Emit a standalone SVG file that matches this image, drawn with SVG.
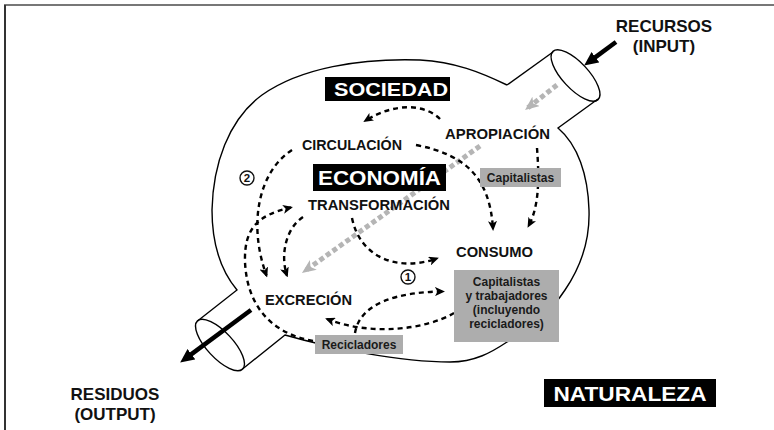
<svg xmlns="http://www.w3.org/2000/svg" width="774" height="430" viewBox="0 0 774 430">
<style>
.lbl{font-family:"Liberation Sans",Arial,sans-serif;font-weight:bold;font-size:15.5px;fill:#111;text-anchor:middle}
.ttl{font-family:"Liberation Sans",Arial,sans-serif;font-weight:bold;fill:#fff;text-anchor:middle}
.io{font-family:"Liberation Sans",Arial,sans-serif;font-weight:bold;font-size:17px;fill:#111;text-anchor:middle}
.gt{font-family:"Liberation Sans",Arial,sans-serif;font-weight:bold;font-size:12px;fill:#1a1a1a;text-anchor:middle}
.num{font-family:"Liberation Sans",Arial,sans-serif;font-weight:bold;font-size:11.5px;fill:#111;text-anchor:middle}
.gbox{fill:#adadad}
.bbox{fill:#000}
.outline{fill:none;stroke:#000;stroke-width:1.4;stroke-linejoin:miter}
.dash{fill:none;stroke:#000;stroke-width:2.4;stroke-dasharray:5 4;marker-end:url(#ah)}
.gdash{fill:none;stroke:#b5b5b5;stroke-width:5;stroke-dasharray:5 3;marker-end:url(#gah)}
.solid{fill:none;stroke:#000;stroke-width:4.5;marker-end:url(#bah)}
</style>
<defs>
<marker id="ah" markerUnits="userSpaceOnUse" markerWidth="10" markerHeight="9" viewBox="0 0 10 9" refX="8" refY="4.5" orient="auto"><path d="M0,0 L10,4.5 L0,9 L2.5,4.5 z" fill="#000"/></marker>
<marker id="gah" markerUnits="userSpaceOnUse" markerWidth="14" markerHeight="12" viewBox="0 0 14 12" refX="11" refY="6" orient="auto"><path d="M0,0 L14,6 L0,12 L3.5,6 z" fill="#b5b5b5"/></marker>
<marker id="bah" markerUnits="userSpaceOnUse" markerWidth="14" markerHeight="13" viewBox="0 0 14 13" refX="2" refY="6.5" orient="auto"><path d="M0,0 L14,6.5 L0,13 z" fill="#000"/></marker>
</defs>
<rect x="0" y="0" width="774" height="430" fill="#fff"/>
<path d="M4,5 H774" stroke="#777" stroke-width="2" fill="none"/>
<path d="M5,5 V430" stroke="#333" stroke-width="2" fill="none"/>
<g id="bulb">
<path class="outline" d="M507,85 C480,72 455,62 420,60 C360,58 300,68 262,95 C228,120 213,165 212,210 C212,245 222,272 237,290 L197.5,321"/>
<path class="outline" d="M242.5,369 L285,335 C330,348 400,362 450,362 C475,362 492,352 507,342 C530,330 552,310 565,290 C580,268 590,240 589,210 C588,175 578,145 558,128 L598,99"/>
<path class="outline" d="M553,52 L507,85"/>
<ellipse class="outline" cx="575.5" cy="75.5" rx="33" ry="13" transform="rotate(47 575.5 75.5)"/>
<ellipse class="outline" cx="220" cy="345" rx="33" ry="13" transform="rotate(47 220 345)"/>
</g>
<g id="connectors">
<path class="gdash" d="M557,85 L527.4,108.2"/>
<path class="gdash" d="M480,146 L304.4,271.3"/>
<path class="dash" d="M440,119 C425,104 395,102 365,121"/>
<path class="dash" d="M416,145 C468,155 490,180 493,229"/>
<path class="dash" d="M537,148 C539,175 540,205 528.5,226"/>
<path class="dash" d="M352,218 C360,258 398,272 437,258.5"/>
<path class="dash" d="M292,150 C258,172 248,225 266.5,275.5"/>
<path class="dash" d="M303,217 C286,228 280,255 287,275.5"/>
<path class="dash" d="M313,341 C270,333 247,305 245,262 C244,228 258,215 291,207.5"/>
<path class="dash" d="M454,313 C425,330 370,336 327,319"/>
<path class="dash" d="M355,333 C360,302 400,292 443,291.5"/>
<path class="solid" d="M616,42 L593.8,58.4"/>
<path class="solid" d="M251,310 L189.8,355.4"/>
</g>
<g id="sociedad"><rect class="bbox" x="325" y="77" width="125" height="24"/><text class="ttl" x="391" y="96" font-size="19" textLength="114" lengthAdjust="spacingAndGlyphs">SOCIEDAD</text></g>
<g id="economia"><rect class="bbox" x="313" y="164" width="133" height="27"/><text class="ttl" x="379.5" y="185" font-size="20" textLength="123" lengthAdjust="spacingAndGlyphs">ECONOMÍA</text></g>
<g id="naturaleza"><rect class="bbox" x="544" y="379" width="172" height="28"/><text class="ttl" x="630" y="401" font-size="21" textLength="153" lengthAdjust="spacingAndGlyphs">NATURALEZA</text></g>
<g id="recursos"><text class="io" x="664" y="32">RECURSOS</text><text class="io" x="664" y="52">(INPUT)</text></g>
<g id="residuos"><text class="io" x="115" y="400">RESIDUOS</text><text class="io" x="115" y="420">(OUTPUT)</text></g>
<g id="apropiacion"><text class="lbl" x="497.5" y="138.5" textLength="105" lengthAdjust="spacingAndGlyphs">APROPIACIÓN</text></g>
<g id="circulacion"><text class="lbl" x="352" y="150" textLength="100" lengthAdjust="spacingAndGlyphs">CIRCULACIÓN</text></g>
<g id="transformacion"><text class="lbl" x="379" y="210" textLength="142" lengthAdjust="spacingAndGlyphs">TRANSFORMACIÓN</text></g>
<g id="consumo"><text class="lbl" x="494.5" y="257" textLength="77" lengthAdjust="spacingAndGlyphs">CONSUMO</text></g>
<g id="excrecion"><text class="lbl" x="308.5" y="305" textLength="87" lengthAdjust="spacingAndGlyphs">EXCRECIÓN</text></g>
<g id="capitalistas"><rect class="gbox" x="480" y="168" width="81" height="19"/><text class="gt" x="520.5" y="182">Capitalistas</text></g>
<g id="consumidores"><rect class="gbox" x="454" y="270" width="105" height="72"/>
<text class="gt" x="506.5" y="285.5">Capitalistas</text>
<text class="gt" x="506.5" y="299.5">y trabajadores</text>
<text class="gt" x="506.5" y="313.5">(incluyendo</text>
<text class="gt" x="506.5" y="327.5">recicladores)</text></g>
<g id="recicladores"><rect class="gbox" x="315" y="335" width="88" height="19"/><text class="gt" x="359" y="349">Recicladores</text></g>
<g id="num1"><circle cx="408" cy="277" r="7" fill="none" stroke="#111" stroke-width="1.4"/><text class="num" x="408" y="281">1</text></g>
<g id="num2"><circle cx="247" cy="178" r="7" fill="none" stroke="#111" stroke-width="1.4"/><text class="num" x="247" y="182">2</text></g>
</svg>
